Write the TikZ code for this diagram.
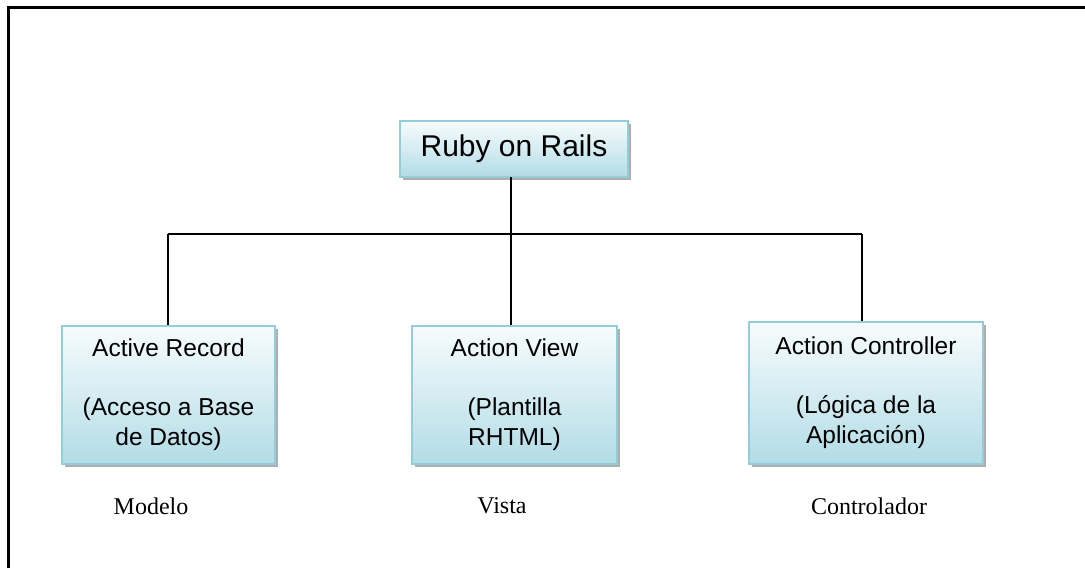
\documentclass[tikz,border=0pt]{standalone}
\usepackage{fontspec}
\setmainfont{Liberation Sans}
\newfontfamily\labelfont{Liberation Serif}
\usetikzlibrary{shadows}
\definecolor{boxtop}{HTML}{F7FCFD}
\definecolor{boxbot}{HTML}{B2DCE6}
\definecolor{boxedge}{HTML}{94CCDA}
\definecolor{boxshadow}{HTML}{9A9A9A}
\tikzset{
  module/.style={draw=boxedge, line width=1.2pt, top color=boxtop, bottom color=boxbot,
    drop shadow={shadow xshift=3pt, shadow yshift=-3pt, fill=boxshadow, opacity=0.8},
    align=center, inner sep=0pt},
  link/.style={line width=1.5pt, black},
  layer/.style={font=\labelfont\fontsize{24}{28}\selectfont, text=black},
}
\begin{document}
\begin{tikzpicture}[x=1pt, y=-1pt]
  \useasboundingbox (0,0) rectangle (1085,568);
  \fill[white] (0,0) rectangle (1085,568);
  % page frame
  \draw[line width=3pt] (8,568) -- (8,7) -- (1085,7);

  % boxes
  \node[module, minimum width=228pt, minimum height=56pt,
        font=\fontsize{30}{35}\selectfont] (ror) at (514,149) {Ruby on Rails};
  \node[module, minimum width=213pt, minimum height=138pt,
        font=\fontsize{24.5}{30}\selectfont] (ar) at (168.5,395)
        {Active Record\\[29pt](Acceso a Base\\de Datos)};
  \node[module, minimum width=205pt, minimum height=138pt,
        font=\fontsize{24.5}{30}\selectfont] (av) at (514.5,395)
        {Action View\\[29pt](Plantilla\\RHTML)};
  \node[module, minimum width=234pt, minimum height=142pt,
        font=\fontsize{24.5}{30}\selectfont] (ac) at (866,393)
        {Action Controller\\[29pt](Lógica de la\\Aplicación)};

  % tree connectors
  \coordinate (top) at (511,177);
  \coordinate (hub) at (511,234);
  \coordinate (hl) at (168,234);
  \coordinate (hr) at (862,234);
  \draw[link] (top) -- (hub);
  \draw[link] (hl) -- (hr);
  \draw[link] (hl) -- (hl |- ar.north);
  \draw[link] (hub) -- (hub |- av.north);
  \draw[link] (hr) -- (hr |- ac.north);

  % layer names
  \node[layer] (m) at (151,506) {Modelo};
  \node[layer] (v) at (502,506) {Vista};
  \node[layer] (c) at (869,506) {Controlador};
\end{tikzpicture}
\end{document}
